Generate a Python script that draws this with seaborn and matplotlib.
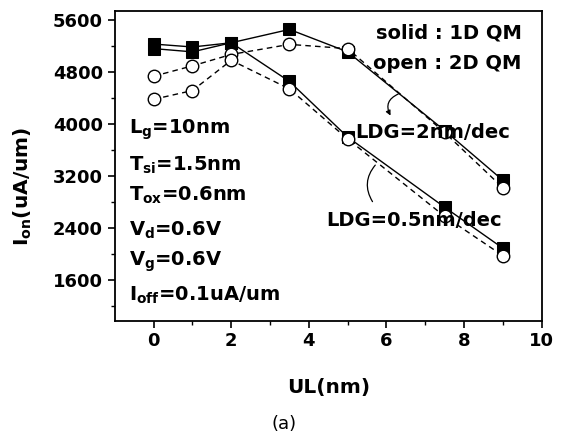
import numpy as np
import pandas as pd
import matplotlib
matplotlib.use("Agg")
import matplotlib.pyplot as plt
import seaborn as sns

sns.set_style("ticks")
plt.rcParams['font.family'] = ['DejaVu Sans']
plt.rcParams['font.weight'] = 'bold'
plt.rcParams['mathtext.default'] = 'bf'
plt.rcParams['text.color'] = 'black'
plt.rcParams['axes.labelcolor'] = 'black'
plt.rcParams['xtick.color'] = 'black'
plt.rcParams['ytick.color'] = 'black'

# UL (nm) positions
ul = [0, 1, 2, 3.5, 5, 7.5, 9]

# LDG = 2 nm/dec
ion_2nm_1d = [5230, 5185, 5250, 5455, 5110, 3900, 3135]
ion_2nm_2d = [4735, 4895, 5070, 5225, 5160, 3870, 3020]

# LDG = 0.5 nm/dec
ion_05nm_1d = [5160, 5110, 5250, 4655, 3800, 2720, 2090]
ion_05nm_2d = [4380, 4515, 4980, 4540, 3770, 2580, 1975]

fig = plt.figure(figsize=(5.63, 4.36), dpi=100)
ax = fig.add_axes([0.204, 0.2645, 0.758, 0.7105])

# solid = 1D QM (filled squares, solid line)
for ys in [ion_2nm_1d, ion_05nm_1d]:
    sns.lineplot(x=ul, y=ys, ax=ax, color='black', linewidth=1.0,
                 marker='s', markersize=8.5, markerfacecolor='black',
                 markeredgecolor='black', sort=False, zorder=2)

# open = 2D QM (open circles, dashed line)
for ys in [ion_2nm_2d, ion_05nm_2d]:
    sns.lineplot(x=ul, y=ys, ax=ax, color='black', linewidth=1.0,
                 linestyle=(0, (4, 3)), marker='o', markersize=9,
                 markerfacecolor='white', markeredgecolor='black',
                 markeredgewidth=1.0, sort=False, zorder=3)

ax.set_xlim(-1, 10)
ax.set_ylim(975, 5740)
ax.set_xticks([0, 2, 4, 6, 8, 10])
ax.set_xticks([1, 3, 5, 7, 9], minor=True)
ax.set_yticks([1600, 2400, 3200, 4000, 4800, 5600])
ax.set_yticks([1200, 2000, 2800, 3600, 4400, 5200], minor=True)
ax.tick_params(which='major', direction='out', length=5, width=1.2, labelsize=13)
ax.tick_params(which='minor', direction='out', length=3, width=1.0)
for sp in ax.spines.values():
    sp.set_visible(True)
    sp.set_linewidth(1.3)
    sp.set_color('black')
for lab in ax.get_xticklabels() + ax.get_yticklabels():
    lab.set_fontweight('bold')

ax.set_xlabel('UL(nm)', fontsize=14.5, fontweight='bold')
ax.set_ylabel('I$_{on}$(uA/um)', fontsize=14.5, fontweight='bold')
ax.xaxis.set_label_coords(0.5, -0.185)
ax.yaxis.set_label_coords(-0.19, 0.435)

ax.text(9.49, 5400, 'solid : 1D QM', ha='right', va='center', fontsize=14, fontweight='bold')
ax.text(9.49, 4938, 'open : 2D QM', ha='right', va='center', fontsize=14, fontweight='bold')
ax.text(5.2, 3862, 'LDG=2nm/dec', ha='left', va='center', fontsize=14, fontweight='bold')
ax.text(4.45, 2523, 'LDG=0.5nm/dec', ha='left', va='center', fontsize=14, fontweight='bold')

params = ['L$_g$=10nm', 'T$_{si}$=1.5nm', 'T$_{ox}$=0.6nm',
          'V$_d$=0.6V', 'V$_g$=0.6V', 'I$_{off}$=0.1uA/um']
param_y = [3908, 3369, 2908, 2369, 1877, 1369]
for s, yv in zip(params, param_y):
    ax.text(-0.64, yv, s, ha='left', va='center', fontsize=14, fontweight='bold')

ax.annotate('', xy=(6.14, 4092), xytext=(6.37, 4477),
            arrowprops=dict(arrowstyle='-|>', color='black', lw=0.9,
                            connectionstyle='arc3,rad=0.6', mutation_scale=7))
ax.annotate('', xy=(5.68, 2770), xytext=(5.76, 3400),
            arrowprops=dict(arrowstyle='-', color='black', lw=0.9,
                            connectionstyle='arc3,rad=0.4'))

fig.text(0.505, 0.008, '(a)', ha='center', va='bottom', fontsize=13, fontweight='normal')

fig.savefig('out.png', dpi=100)
